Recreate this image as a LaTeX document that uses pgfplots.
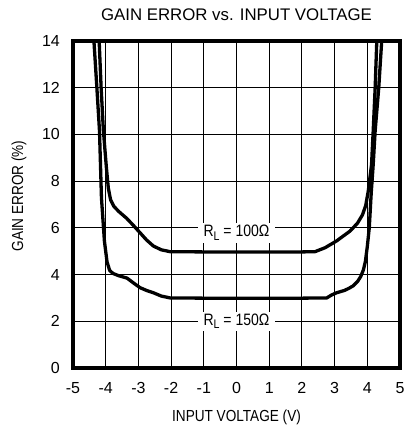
\documentclass[border=0pt]{standalone}
\usepackage{fontspec}
\setmainfont{Liberation Sans}
\newfontfamily\narrowfont[FakeStretch=0.85]{Liberation Sans}
\usepackage{pgfplots}
\pgfplotsset{compat=1.18}

% Gain error (%) against input voltage (V), two load resistances
\pgfplotstableread{
x      y
-4.26  14.5
-4.20  14.0
-4.14  12.0
-4.07  10.15
-3.98  8.60
-3.92  7.70
-3.85  7.20
-3.75  6.92
-3.60  6.70
-3.36  6.41
-3.15  6.10
-2.95  5.79
-2.75  5.48
-2.54  5.22
-2.30  5.06
-2.03  4.98
-1.00  4.97
 0.00  4.97
 1.00  4.97
 2.00  4.97
 2.40  4.98
 2.71  5.15
 3.06  5.44
 3.47  5.86
 3.70  6.20
 3.85  6.55
 3.95  6.95
 4.03  7.58
 4.13  8.72
 4.18  10.15
 4.24  12.0
 4.29  14.0
 4.31  14.5
}\loadhundred

\pgfplotstableread{
x      y
-4.38  14.5
-4.36  14.0
-4.27  12.0
-4.19  10.15
-4.13  7.29
-4.04  5.44
-3.96  4.55
-3.88  4.18
-3.78  4.05
-3.60  3.95
-3.35  3.85
-3.15  3.64
-2.95  3.44
-2.75  3.32
-2.54  3.22
-2.30  3.08
-2.03  3.00
-1.00  2.99
 0.00  2.99
 1.00  2.99
 2.00  2.99
 2.76  3.00
 2.90  3.12
 3.06  3.22
 3.30  3.32
 3.45  3.42
 3.57  3.52
 3.70  3.70
 3.80  3.92
 3.88  4.20
 3.94  4.55
 4.00  5.20
 4.06  6.00
 4.12  7.50
 4.18  8.70
 4.24  10.15
 4.35  12.0
 4.44  14.0
 4.46  14.5
}\loadonefifty

\begin{document}
\begin{tikzpicture}
\path[use as bounding box] (0,0) rectangle (407bp,428bp);
\begin{axis}[
  at={(73bp,60bp)}, anchor=south west,
  scale only axis, width=327bp, height=327bp,
  xmin=-5, xmax=5, ymin=0, ymax=14,
  xtick={-5,-4,...,5}, ytick={0,2,...,14},
  grid=major,
  major grid style={black, line width=1.1bp},
  major tick length=0pt,
  axis line style={line width=4bp},
  /pgf/number format/assume math mode=true,
  tick label style={font=\fontsize{16bp}{19bp}\selectfont},
  xticklabel style={anchor=base, inner sep=0pt, yshift=-26bp},
  yticklabel style={anchor=east, inner sep=0pt, xshift=-13bp},
  every axis title shift=0pt,
  title={\fontsize{16.8bp}{19bp}\selectfont GAIN ERROR vs. INPUT VOLTAGE},
  title style={at={(axis description cs:0.5,1.062)}, anchor=base,
    inner sep=0pt},
  xlabel={INPUT VOLTAGE (V)},
  xlabel style={at={(axis description cs:0.5,-0.165)}, anchor=base,
    inner sep=0pt, font=\narrowfont\fontsize{16bp}{19bp}\selectfont},
  ylabel={GAIN ERROR (\%)},
  ylabel style={at={(axis description cs:-0.1529,0.526)}, anchor=base,
    inner sep=0pt, font=\narrowfont\fontsize{16bp}{19bp}\selectfont},
]
\addplot[black, line width=3.3bp, line join=round] table[x=x, y=y] {\loadhundred};
\addplot[black, line width=3.3bp, line join=round] table[x=x, y=y] {\loadonefifty};
\node[fill=white, inner xsep=6bp, inner ysep=2bp, anchor=base,
  font=\narrowfont\fontsize{16.5bp}{19bp}\selectfont]
  at (axis cs:0,5.62) {R\raisebox{-0.45ex}{\fontsize{12.5bp}{12bp}\selectfont L} = 100Ω};
\node[fill=white, inner xsep=6bp, inner ysep=2bp, anchor=base,
  font=\narrowfont\fontsize{16.5bp}{19bp}\selectfont]
  at (axis cs:0,1.84) {R\raisebox{-0.45ex}{\fontsize{12.5bp}{12bp}\selectfont L} = 150Ω};
\end{axis}
\end{tikzpicture}
\end{document}
